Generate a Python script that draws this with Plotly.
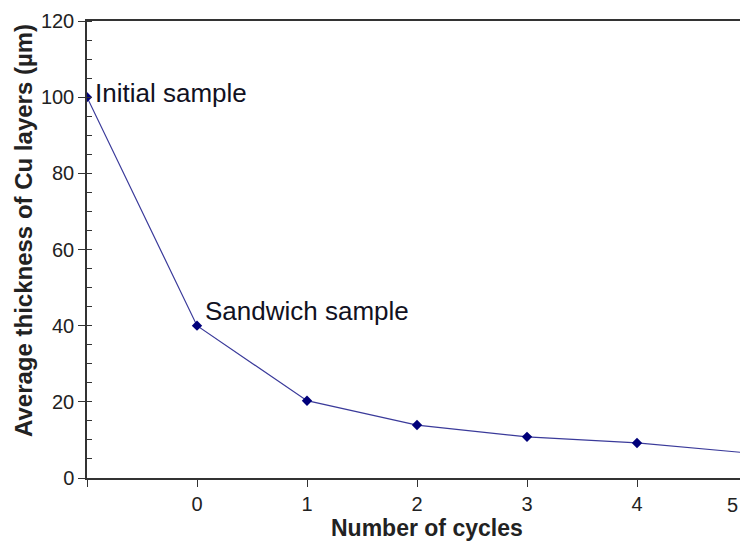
import plotly.graph_objects as go

# Cycle index (-1 = initial sample, 0 = sandwich sample) and mean Cu layer thickness
cycles = [-1, 0, 1, 2, 3, 4, 5]
thickness_um = [100, 40, 20.3, 13.9, 10.8, 9.2, 6.6]
x_tick_vals = [-1, 0, 1, 2, 3, 4, 5]
x_tick_text = ["", "0", "1", "2", "3", "4", "5"]
y_tick_vals = [0, 20, 40, 60, 80, 100, 120]

FONT = "Liberation Sans, Arial, sans-serif"
W, H = 740, 543
ML, MT, MB = 87, 21, 65
TICK_SIZE = 20
PW, PH = W - ML, H - MT - MB

fig = go.Figure()
fig.add_trace(go.Scatter(
    x=cycles, y=thickness_um, mode="lines+markers",
    line=dict(color="#3a3a9a", width=1.2),
    marker=dict(symbol="diamond", size=8, color="#00007a"),
    cliponaxis=True, showlegend=False,
))

# Point labels
fig.add_annotation(x=cycles[0], y=thickness_um[0], text="Initial sample",
                   xref="x", yref="y", showarrow=False, xanchor="left", yanchor="middle",
                   xshift=6, yshift=4, font=dict(family=FONT, size=26, color="#111122"))
fig.add_annotation(x=cycles[1], y=thickness_um[1], text="Sandwich sample",
                   xref="x", yref="y", showarrow=False, xanchor="left", yanchor="bottom",
                   xshift=6, yshift=-2, font=dict(family=FONT, size=26, color="#111122"))

# Last tick label, at the right edge of the figure
fig.add_annotation(x=1, y=0, xref="paper", yref="paper",
                   text=x_tick_text[-1], showarrow=False, xanchor="right", yanchor="top",
                   yshift=-14, font=dict(family=FONT, size=TICK_SIZE, color="#222222"))

# Axis titles
fig.add_annotation(x=(427 - ML) / PW, y=(H - MB - 528) / PH, xref="paper", yref="paper",
                   text="<b>Number of cycles</b>", showarrow=False,
                   xanchor="center", yanchor="middle",
                   font=dict(family=FONT, size=23, color="#222222"))
fig.add_annotation(x=(24 - ML) / PW, y=(H - MB - 231) / PH, xref="paper", yref="paper",
                   text="<b>Average thickness of Cu layers (µm)</b>", showarrow=False,
                   textangle=-90, xanchor="center", yanchor="middle",
                   font=dict(family=FONT, size=24, color="#222222"))

fig.update_layout(
    width=W, height=H,
    margin=dict(l=ML, r=0, t=MT, b=MB, pad=0),
    paper_bgcolor="white", plot_bgcolor="white",
    font=dict(family=FONT, color="#222222"),
    xaxis=dict(
        range=[-1, -1 + PW / 110.0],
        tickvals=x_tick_vals, ticktext=x_tick_text,
        ticks="outside", ticklen=7, tickwidth=1.3, tickcolor="#333333",
        showline=True, linecolor="#333333", linewidth=1.5, mirror=True,
        showgrid=False, zeroline=False,
        tickfont=dict(family=FONT, size=TICK_SIZE, color="#222222"),
    ),
    yaxis=dict(
        range=[0, 120],
        tickvals=y_tick_vals,
        ticks="outside", ticklen=7, tickwidth=1.3, tickcolor="#333333",
        minor=dict(dtick=5, ticks="inside", ticklen=5, tickwidth=1.2, tickcolor="#333333"),
        showline=True, linecolor="#333333", linewidth=1.5,
        showgrid=False, zeroline=False,
        tickfont=dict(family=FONT, size=TICK_SIZE, color="#222222"),
    ),
)

fig.write_html("out.html")
